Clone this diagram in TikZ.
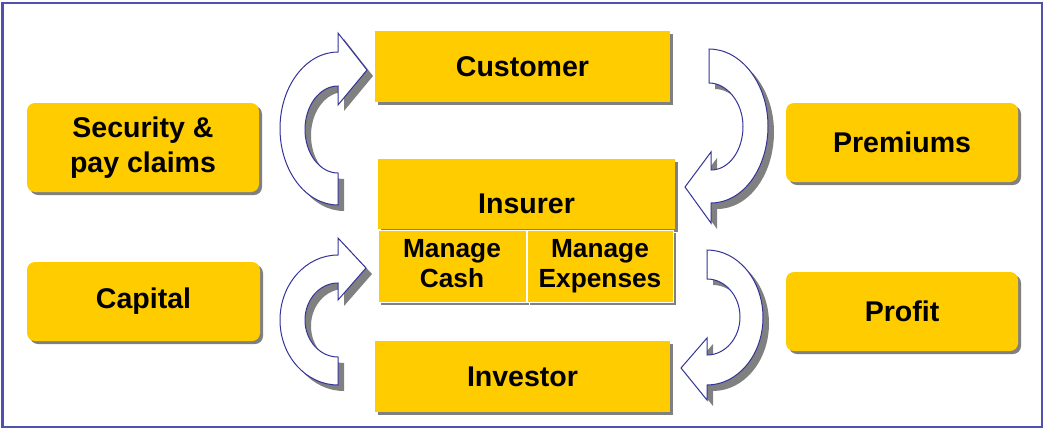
\documentclass[tikz,border=0pt]{standalone}
\usepackage{fontspec}
\setmainfont{Liberation Sans}
\usetikzlibrary{shadows}
\definecolor{gold}{RGB}{255,204,0}
\definecolor{frameblue}{RGB}{80,80,176}
\definecolor{arrowblue}{RGB}{51,51,153}
\definecolor{shadowgray}{RGB}{128,128,128}
\newcommand\pathLT{(338,205) .. controls (306,205) and (280,170.8) .. (280,128.5) .. controls (280,86.2) and (306,52) .. (338,52) -- (338,33) -- (367,70) -- (338,105) -- (338,86) .. controls (319.8,86) and (305,105.5) .. (305,129.5) .. controls (305,153.5) and (319.8,173) .. (338,173) -- cycle}
\newcommand\pathLB{(338,385) .. controls (306,385) and (280,355.9) .. (280,320) .. controls (280,284.1) and (306,255) .. (338,255) -- (338,238) -- (366,268) -- (338,300) -- (338,283) .. controls (319.8,283) and (305,299.6) .. (305,320) .. controls (305,340.4) and (319.8,357) .. (338,357) -- cycle}
\newcommand\pathRT{(709,49) .. controls (741,49) and (768,83.5) .. (768,126) .. controls (768,168.5) and (743,203) .. (711,203) -- (711,223) -- (685,187) -- (711,152) -- (711,170) .. controls (729,170) and (743,150.5) .. (743,126.5) .. controls (743,102.5) and (727,83) .. (709,83) -- cycle}
\newcommand\pathRB{(707,250) .. controls (737.9,250) and (763,280.2) .. (763,317.5) .. controls (763,354.8) and (737.9,385) .. (707,385) -- (707,400) -- (681,368) -- (707,338) -- (707,355) .. controls (725.2,355) and (740,338) .. (740,317) .. controls (740,296) and (725.2,279) .. (707,279) -- cycle}
\begin{document}
\begin{tikzpicture}[x=0.75pt,y=-0.75pt,
  box/.style={fill=gold, inner sep=0pt, drop shadow={shadow xshift=2.25pt, shadow yshift=-2.25pt, fill=shadowgray, opacity=1}},
  rbox/.style={box, rounded corners=6pt},
  sz/.style 2 args={minimum width=#1*0.75pt, minimum height=#2*0.75pt},
  lbl/.style={font=\fontsize{21.4pt}{26.3pt}\selectfont\bfseries, align=center},
  slbl/.style={font=\fontsize{19.7pt}{22.5pt}\selectfont\bfseries, align=center},
  flow/.style={fill=white, draw=arrowblue, line width=0.75pt},
  flowshadow/.style={fill=shadowgray},
]
\useasboundingbox (0,0) rectangle (1043,429);
\fill[white] (0,0) rectangle (1043,429);
\draw[frameblue, line width=1.5pt] (2.5,2.5) rectangle (1041.5,427);

% curved block arrows
\fill[flowshadow, shift={(6,6)}] \pathLT;
\path[flow] \pathLT;
\fill[flowshadow, shift={(6,6)}] \pathLB;
\path[flow] \pathLB;
\fill[flowshadow, shift={(6,6)}] \pathRT;
\path[flow] \pathRT;
\fill[flowshadow, shift={(6,6)}] \pathRB;
\path[flow] \pathRB;

% centre column
\node[box, sz={295}{71}, lbl] (customer) at (522.5,66.5) {Customer};
\node[box, sz={297}{70}] (insurer) at (526.5,194) {};
\node[lbl] (insurerlbl) at (526.5,204) {Insurer};
\node[box, draw=white, line width=0.75pt, sz={148}{72}, slbl] (cash) at (452,266) {Manage\\Cash\vphantom{p}};
\node[box, draw=white, line width=0.75pt, sz={146}{72}, slbl] (expenses) at (600,266) {Manage\\Expenses};
\node[box, sz={295}{71}, lbl] (investor) at (522.5,376.5) {Investor};

% side boxes
\node[rbox, sz={232}{89}, lbl] (security) at (143,147.5) {Security \&\\pay claims};
\node[rbox, sz={233}{79}, lbl] (capital) at (143.5,301.5) {Capital};
\node[rbox, sz={232}{79}, lbl] (premiums) at (902,142.5) {Premiums};
\node[rbox, sz={232}{79}, lbl] (profit) at (902,311.5) {Profit};
\end{tikzpicture}
\end{document}
